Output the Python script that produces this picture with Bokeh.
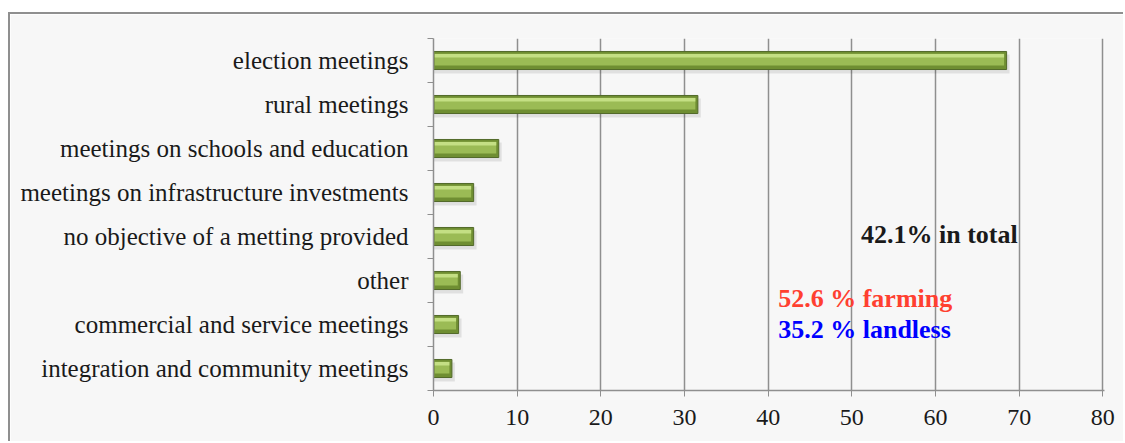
from bokeh.plotting import figure
from bokeh.models import FixedTicker, Label
from bokeh.embed import file_html
from bokeh.resources import INLINE

categories = [
    "election meetings",
    "rural meetings",
    "meetings on schools and education",
    "meetings on infrastructure investments",
    "no objective of a metting provided",
    "other",
    "commercial and service meetings",
    "integration and community meetings",
]
values = [68.5, 31.6, 7.8, 4.8, 4.8, 3.2, 3.0, 2.2]
x_ticks = [0, 10, 20, 30, 40, 50, 60, 70, 80]
notes = ["42.1% in total", "52.6 % farming", "35.2 % landless"]

n = len(categories)
ys = [n - 1 - i for i in range(n)]  # top to bottom order

FONT = "Liberation Serif"

p = figure(width=1115, height=429, output_backend="svg", toolbar_location=None,
           x_range=(0, 80.2), y_range=(-0.5, n - 0.5),
           min_border_left=423, min_border_right=21, min_border_top=24, min_border_bottom=53)
p.margin = (12, 0, 0, 8)
p.styles = {"border-top": "2px solid #8f8f8f", "border-left": "2px solid #8f8f8f"}
p.background_fill_color = "#f7f7f7"
p.border_fill_color = "#f7f7f7"
p.outline_line_color = None

# grid
p.ygrid.grid_line_color = None
p.xgrid.ticker = FixedTicker(ticks=x_ticks)
p.xgrid.grid_line_color = "#8f8f8f"
p.xgrid.grid_line_width = 1.5

# x axis
p.xaxis.ticker = FixedTicker(ticks=x_ticks)
p.xaxis.axis_line_color = "#8f8f8f"
p.xaxis.axis_line_width = 1.5
p.xaxis.major_tick_line_color = "#8f8f8f"
p.xaxis.major_tick_in = 6
p.xaxis.major_tick_out = 6
p.xaxis.minor_tick_line_color = None
p.xaxis.major_label_text_font = FONT
p.xaxis.major_label_text_font_size = "24px"
p.xaxis.major_label_text_color = "#1a1a1a"
p.xaxis.major_label_standoff = 13

# y axis
p.yaxis.ticker = FixedTicker(ticks=ys, minor_ticks=[i - 0.5 for i in range(n + 1)])
p.yaxis.major_label_overrides = {y: c for y, c in zip(ys, categories)}
p.yaxis.axis_line_color = "#8f8f8f"
p.yaxis.axis_line_width = 1.5
p.yaxis.major_tick_line_color = None
p.yaxis.major_tick_in = 0
p.yaxis.major_tick_out = 0
p.yaxis.minor_tick_line_color = "#8f8f8f"
p.yaxis.minor_tick_in = 0
p.yaxis.minor_tick_out = 6
p.yaxis.major_label_text_font = FONT
p.yaxis.major_label_text_font_size = "25px"
p.yaxis.major_label_text_color = "#1a1a1a"
p.yaxis.major_label_standoff = 19

# bars (bevelled look)
p.hbar(y=[y - 0.08 for y in ys], left=0, right=[v + 0.35 for v in values], height=0.43,
       fill_color="#000000", fill_alpha=0.09, line_color=None)
p.hbar(y=ys, left=0, right=values, height=0.41,
       fill_color="#6f8e32", line_color="#52692a", line_width=1)
p.hbar(y=[y + 0.02 for y in ys], left=0.15, right=[v - 0.3 for v in values], height=0.27,
       fill_color="#9bbb55", line_color=None)
p.hbar(y=[y + 0.11 for y in ys], left=0.15, right=[v - 0.3 for v in values], height=0.08,
       fill_color="#c4df84", line_color=None)

# annotations
p.add_layout(Label(x=51.1, y=3.05, text=notes[0], text_font=FONT, text_font_style="bold",
                   text_font_size="26px", text_color="#1a1a1a", text_baseline="middle"))
p.add_layout(Label(x=41.2, y=1.6, text=notes[1], text_font=FONT, text_font_style="bold",
                   text_font_size="26px", text_color="#ff4030", text_baseline="middle"))
p.add_layout(Label(x=41.2, y=0.88, text=notes[2], text_font=FONT, text_font_style="bold",
                   text_font_size="26px", text_color="#0000ff", text_baseline="middle"))

open("out.html", "w").write(file_html(p, INLINE))
